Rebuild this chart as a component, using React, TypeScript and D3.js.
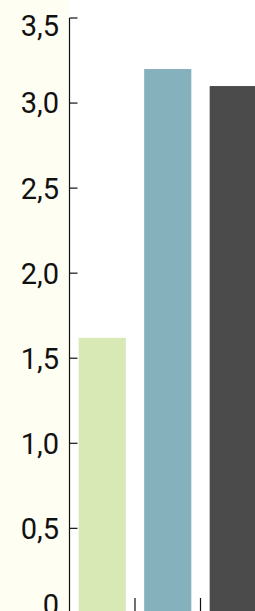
import React from 'react';
import * as d3 from 'd3';

const categories = ['A', 'B', 'C'];
const values = [1.62, 3.2, 3.1];
const colors = ['#d9e9b5', '#85b1bd', '#4b4b4b'];
const yTicks = [0, 0.5, 1, 1.5, 2, 2.5, 3, 3.5];

const W = 255;
const H = 611;

const App = () => {
  const axisX = 69.5;
  const y = d3.scaleLinear().domain([0, 3.5]).range([613.4, 18]);
  const x = d3.scaleBand<string>()
    .domain(categories)
    .range([axisX, axisX + 3 * 65.5])
    .paddingInner(0.28)
    .paddingOuter(0.14);
  const step = x.step();
  const fmt = (v: number) => (v === 0 ? '0' : d3.format('.1f')(v).replace('.', ','));

  return (
    <svg width={W} height={H} style={{ position: 'absolute', left: 0, top: 0, background: '#fff' }}>
      <rect x={0} y={0} width={axisX} height={H} fill="#fefef2" />
      {categories.map((c, i) => (
        <rect
          key={c}
          x={x(c)}
          y={y(values[i])}
          width={x.bandwidth()}
          height={y(0) - y(values[i]) + 5}
          fill={colors[i]}
        />
      ))}
      {categories.slice(1).map((c, i) => {
        const bx = axisX + step * (i + 1);
        return <line key={c} x1={bx} x2={bx} y1={598} y2={H} stroke="#111" strokeWidth={1.2} />;
      })}
      <line x1={axisX} x2={axisX} y1={y(3.5)} y2={H} stroke="#111" strokeWidth={1.2} />
      {yTicks.map(t => {
        const ty = y(t);
        const ly = Math.min(Math.max(ty, 25.5), 604.5);
        return (
          <g key={t}>
            <line x1={axisX} x2={axisX + 8} y1={ty} y2={ty} stroke="#111" strokeWidth={1.2} />
            <text
              x={59}
              y={ly}
              dy="0.36em"
              textAnchor="end"
              fontFamily="Roboto, sans-serif"
              fontSize={29}
              fill="#111"
            >
              {fmt(t)}
            </text>
          </g>
        );
      })}
    </svg>
  );
};

export default App;
